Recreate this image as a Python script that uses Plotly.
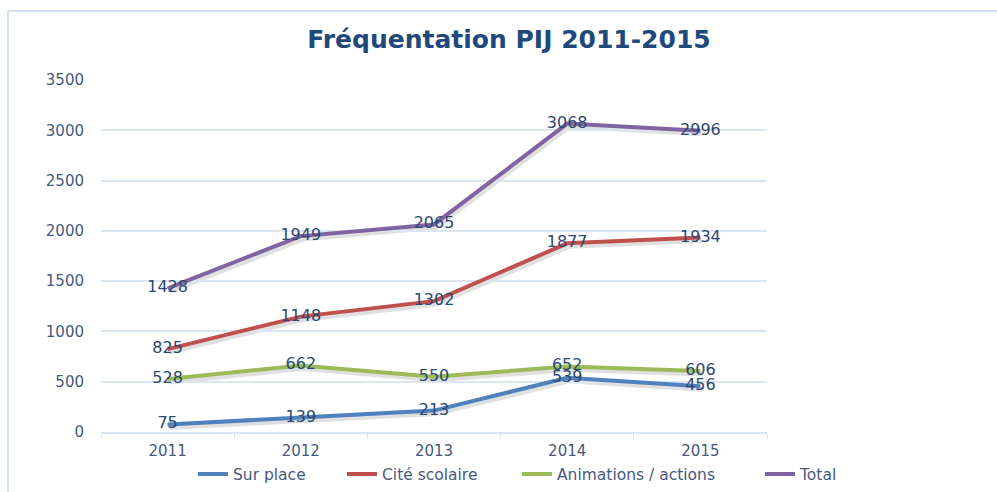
import plotly.graph_objects as go

# ---- data ----
years = ["2011", "2012", "2013", "2014", "2015"]
sur_place = [75, 139, 213, 539, 456]
cite_scolaire = [825, 1148, 1302, 1877, 1934]
animations = [528, 662, 550, 652, 606]
total = [1428, 1949, 2065, 3068, 2996]
series_names = ["Sur place", "Cité scolaire", "Animations / actions", "Total"]
series_values = [sur_place, cite_scolaire, animations, total]
series_colors = ["#4F81BD", "#C0504D", "#9BBB59", "#8064A2"]
y_ticks = [0, 500, 1000, 1500, 2000, 2500, 3000, 3500]
title_text = "Fréquentation PIJ 2011-2015"

W, H = 997, 492
FONT = "DejaVu Sans"
LABEL_COL = "#2C4770"
TICK_COL = "#46597E"
GRID_COL = "#DCE6F2"

# effective rendering box observed (vertical)
OFF, HE = 7.5, 476.0


def fx(x):
    return x / W


def fy(y):
    return 1 - (y - OFF) / HE


# plot area in pixels
left, right, top, bottom = 101, 767, 79, 432.3
xdom = [fx(left), fx(right)]
ydom = [fy(bottom), fy(top)]
sx, sy = 2, 3
xdom_s = [fx(left + sx), fx(right + sx)]
ydom_s = [fy(bottom + sy), fy(top + sy)]

# legend text start positions (px) of each entry
legend_text_x = [233, 382, 557, 800]
legend_ids = ["legend", "legend2", "legend3", "legend4"]

fig = go.Figure()

# shadows
for vals in series_values:
    fig.add_trace(go.Scatter(x=years, y=vals, mode="lines",
                             line=dict(color="rgba(0,0,0,0.12)", width=5),
                             xaxis="x", yaxis="y", showlegend=False, hoverinfo="skip"))

# real lines
for name, vals, col, lid in zip(series_names, series_values, series_colors, legend_ids):
    fig.add_trace(go.Scatter(x=years, y=vals, mode="lines", name=name, legend=lid,
                             line=dict(color=col, width=4),
                             xaxis="x2", yaxis="y2"))

# data labels above all lines
for vals in series_values:
    fig.add_trace(go.Scatter(x=years, y=vals, mode="text", text=[str(v) for v in vals],
                             textposition="middle center",
                             textfont=dict(family=FONT, size=16, color=LABEL_COL),
                             xaxis="x2", yaxis="y2", showlegend=False, hoverinfo="skip"))

legend_layout = {}
for lid, tx in zip(legend_ids, legend_text_x):
    legend_layout[lid] = dict(orientation="h", x=fx(tx - 40), xanchor="left",
                              y=fy(475), yanchor="middle",
                              font=dict(family=FONT, size=15.5, color=TICK_COL),
                              bgcolor="rgba(0,0,0,0)")

fig.update_layout(
    width=W, height=H,
    margin=dict(l=0, r=0, t=0, b=0),
    paper_bgcolor="white",
    plot_bgcolor="rgba(0,0,0,0)",
    font=dict(family=FONT, size=15, color=TICK_COL),
    xaxis=dict(domain=xdom_s, type="category", range=[-0.5, 4.5], visible=False,
               anchor="y", fixedrange=True),
    yaxis=dict(domain=ydom_s, range=[0, 3500], visible=False, anchor="x", fixedrange=True),
    xaxis2=dict(domain=xdom, type="category", range=[-0.5, 4.5], anchor="y2",
                showgrid=False, showline=True, linecolor=GRID_COL, linewidth=1.5,
                ticks="outside", tickson="boundaries", ticklen=5, tickcolor=GRID_COL,
                tickfont=dict(family=FONT, size=15, color=TICK_COL), ticklabelstandoff=4),
    yaxis2=dict(domain=ydom, range=[0, 3500], anchor="x2", tickvals=y_ticks,
                showgrid=True, gridcolor=GRID_COL, gridwidth=1.5, zeroline=False,
                showline=False, ticks="", ticklabelstandoff=16,
                tickfont=dict(family=FONT, size=15, color=TICK_COL)),
    title=dict(text=title_text, x=fx(509), xanchor="center", y=fy(45.5), yanchor="middle",
               font=dict(family=FONT, size=25, color="#1F497D", weight="bold")),
    shapes=[dict(type="rect", xref="paper", yref="paper", x0=fx(8), x1=1.1,
                 y0=-0.2, y1=fy(9.5), line=dict(color="#D3DFEE", width=2),
                 fillcolor="rgba(0,0,0,0)", layer="below")],
    showlegend=True,
    **legend_layout,
)

fig.write_html("out.html", config={"displayModeBar": False},
               post_script="document.body.style.margin='0px';")
